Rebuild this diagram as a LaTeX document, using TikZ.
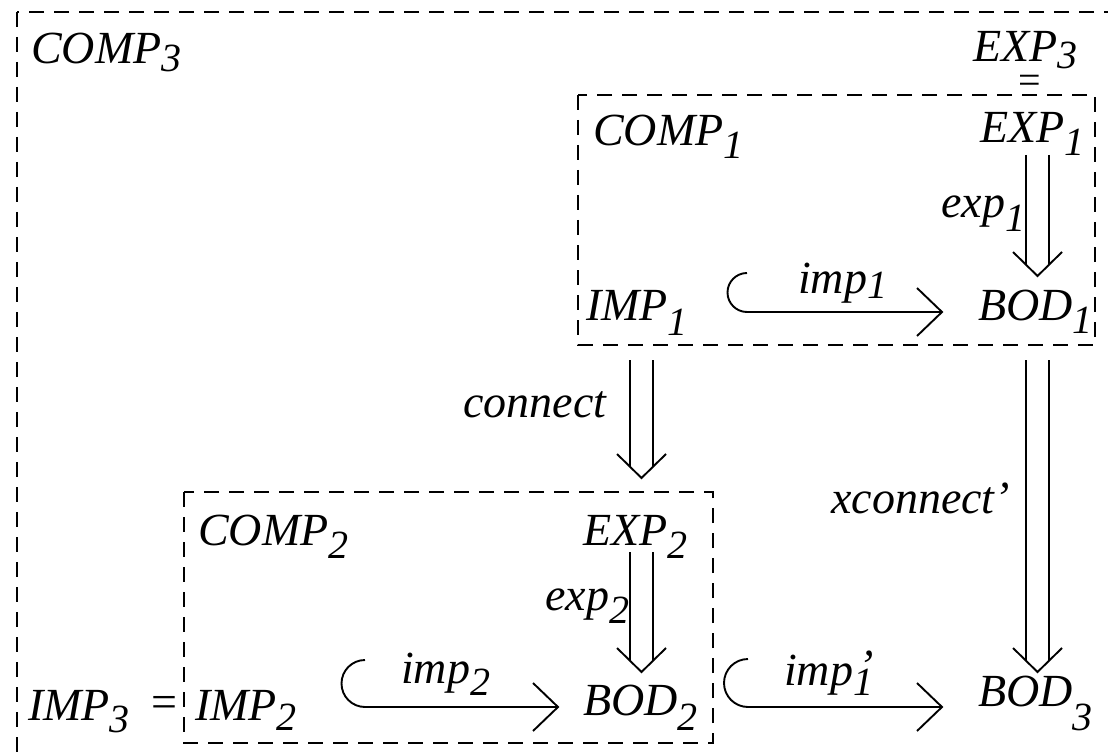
\documentclass[tikz,border=0pt]{standalone}
\usepackage{fontspec}
\setmainfont{Liberation Serif}
\usetikzlibrary{calc}
\newcommand\lbfont{\fontsize{46}{50}\selectfont\itshape}
\newcommand\lsub[2]{\raisebox{-#1pt}{\fontsize{40}{40}\selectfont #2}}
\newcommand\dblarr[2]{%
  \draw[arr] ($(#1)+(-11.5,0)$) -- ($(#2)+(-11.5,-12)$);
  \draw[arr] ($(#1)+(11.5,0)$) -- ($(#2)+(11.5,-12)$);
  \draw[arr] ($(#2)+(-24.5,-24)$) -- (#2) -- ($(#2)+(24.5,-24)$);}
\newcommand\hookarr[3]{%
  \draw[arr] ($(#1)+(0,-2*#3)$) arc[start angle=270, end angle=90, radius=#3] -- (#2);
  \draw[arr] ($(#2)+(-25,-24)$) -- (#2) -- ($(#2)+(-25,24)$);}
\tikzset{
  lbl/.style={inner sep=0pt, anchor=base west, font=\lbfont},
  dbox/.style={line width=2.1pt, dash pattern=on 15pt off 10pt},
  arr/.style={line width=1.9pt}
}
\begin{document}
\begin{tikzpicture}[x=1pt,y=-1pt]
\useasboundingbox (0,0) rectangle (1108,754);
\clip (0,0) rectangle (1108,754);
% frames
\draw[dbox] (17,12) rectangle (1140,790);
\draw[dbox] (578,95) rectangle (1095,345);
\draw[dbox] (184,492) rectangle (713,743);
% labels
\node[lbl] (COMP3) at (31,64) {COMP\lsub{8}{3}};
\node[lbl] (EXP3) at (973,62) {EXP\lsub{7}{3}};
\node[inner sep=0pt, anchor=base, font=\fontsize{40}{44}\selectfont] (eqA) at (1030,94) {=};
\node[lbl] (COMP1) at (593,146) {COMP\lsub{13}{1}};
\node[lbl] (EXP1) at (980,143) {EXP\lsub{13}{1}};
\node[lbl] (exp1) at (941,218) {exp\lsub{14}{1}};
\node[lbl] (IMP1) at (586,320) {IMP\lsub{15}{1}};
\node[lbl] (imp1) at (798,293) {imp\lsub{5}{1}};
\node[lbl] (BOD1) at (978,320) {BOD\lsub{13}{1}};
\node[lbl] (connect) at (463,417) {connect};
\node[lbl] (xconnect) at (831,513) {xconnect’};
\node[lbl] (COMP2) at (198,545) {COMP\lsub{13}{2}};
\node[lbl] (EXP2) at (583,545) {EXP\lsub{13}{2}};
\node[lbl] (exp2) at (545,610) {exp\lsub{13}{2}};
\node[lbl] (IMP3) at (28,720) {IMP\lsub{12}{3}};
\node[inner sep=0pt, font=\fontsize{46}{50}\selectfont] (eqB) at (164,707) {=};
\node[lbl] (IMP2) at (195,720) {IMP\lsub{10}{2}};
\node[lbl] (imp2) at (401,683) {imp\lsub{12}{2}};
\node[lbl] (BOD2) at (583,715) {BOD\lsub{15}{2}};
\node[lbl] (impp1) at (784,685) {imp\rlap{\hspace{5pt}\raisebox{4pt}{’}}\lsub{10}{1}};
\node[lbl] (BOD3) at (978,706) {BOD\lsub{24}{3}};
% connector end points
\coordinate (e1s) at (1037.5,155); \coordinate (e1t) at (1037.5,276);
\coordinate (cs) at (641.5,360);   \coordinate (ct) at (641.5,478);
\coordinate (xs) at (1037.5,360);  \coordinate (xt) at (1037.5,672);
\coordinate (e2s) at (641.5,552);  \coordinate (e2t) at (641.5,672);
\coordinate (h1s) at (747,312);    \coordinate (h1t) at (942,312);
\coordinate (h2s) at (365,707);    \coordinate (h2t) at (558,707);
\coordinate (h3s) at (748,707);    \coordinate (h3t) at (942,707);
% connectors
\dblarr{e1s}{e1t}
\dblarr{cs}{ct}
\dblarr{xs}{xt}
\dblarr{e2s}{e2t}
\hookarr{h1s}{h1t}{19.5}
\hookarr{h2s}{h2t}{23.5}
\hookarr{h3s}{h3t}{24}
\end{tikzpicture}
\end{document}
